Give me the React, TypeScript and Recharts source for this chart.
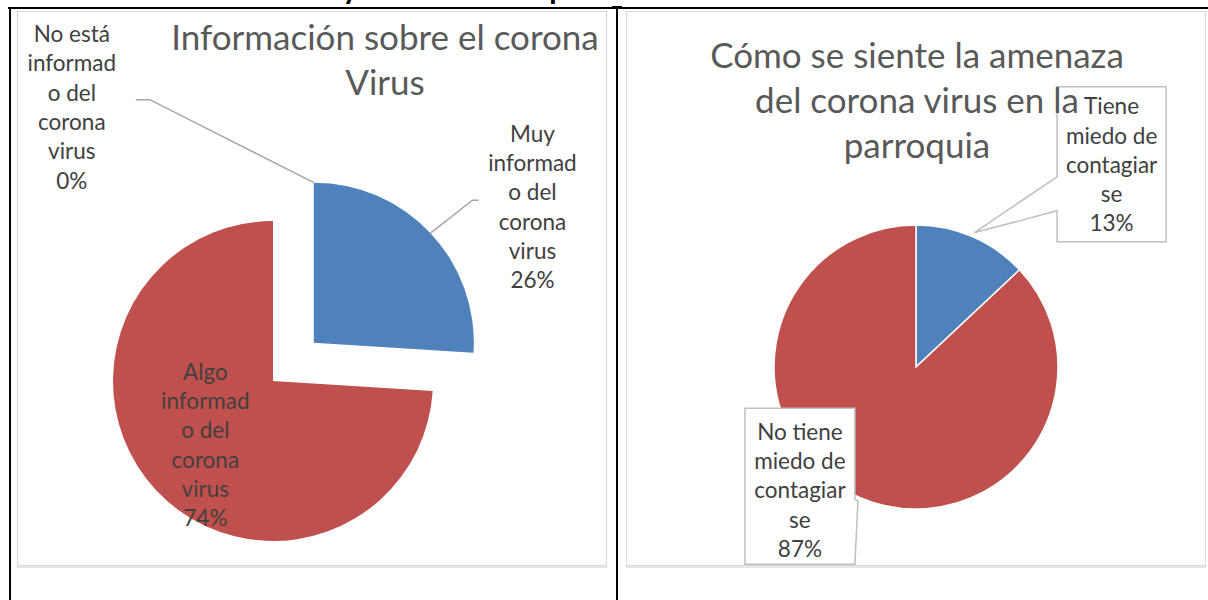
import { PieChart, Pie, Cell, Sector } from 'recharts';

const infoTitle = ['Información sobre el corona', 'Virus'];
const infoCategories = [
  'Muy informado del corona virus',
  'Algo informado del corona virus',
  'No está informado del corona virus',
];
const infoValues = [26, 74, 0];

const threatTitle = ['Cómo se siente la amenaza', 'del corona virus en la', 'parroquia'];
const threatCategories = ['Tiene miedo de contagiarse', 'No tiene miedo de contagiarse'];
const threatValues = [13, 87];

const COLORS = ['#4f81bd', '#c0504d', '#9bbb59'];
const RAD = Math.PI / 180;
const FONT = 'Lato, "Open Sans", sans-serif';
const LABEL_SIZE = 22.5;
const LH = 29.3;
const EXPLODE = 56;
const NO_MARGIN = { top: 0, right: 0, bottom: 0, left: 0 };

const infoData = infoCategories.map((name, i) => ({ name, value: infoValues[i] }));
const threatData = threatCategories.map((name, i) => ({ name, value: threatValues[i] }));

// excel-ish word wrap, breaks long words at max chars
function wrap(text: string, max: number) {
  const lines: string[] = [];
  let cur = '';
  for (const w of text.split(' ')) {
    let word = w;
    for (;;) {
      const cand = cur ? cur + ' ' + word : word;
      if (cand.length <= max) {
        cur = cand;
        break;
      }
      if (cur) {
        lines.push(cur);
        cur = '';
        continue;
      }
      lines.push(word.slice(0, max));
      word = word.slice(max);
    }
  }
  if (cur) lines.push(cur);
  return lines;
}

const polar = (cx: number, cy: number, r: number, angle: number) => ({
  x: cx + r * Math.cos(-angle * RAD),
  y: cy + r * Math.sin(-angle * RAD),
});

const TextBlock = ({ x, y, lines }: { x: number; y: number; lines: string[] }) => (
  <g>
    {lines.map((l, i) => (
      <text
        key={i}
        x={x}
        y={y + i * LH}
        textAnchor="middle"
        dominantBaseline="central"
        fill="#404040"
        fontSize={LABEL_SIZE}
        fontFamily={FONT}
      >
        {l}
      </text>
    ))}
  </g>
);

const InfoSector = (props: any) => {
  const name = props.name ?? props.payload?.name;
  let { cx, cy } = props;
  if (name === infoCategories[0]) {
    const o = polar(cx, cy, EXPLODE, props.midAngle);
    cx = o.x;
    cy = o.y;
  }
  return (
    <Sector
      cx={cx}
      cy={cy}
      innerRadius={props.innerRadius}
      outerRadius={props.outerRadius}
      startAngle={props.startAngle}
      endAngle={props.endAngle}
      fill={props.fill}
      stroke="none"
    />
  );
};

const renderInfoLabel = (p: any) => {
  const { cx, cy, midAngle, outerRadius, index, percent } = p;
  const lines = [...wrap(infoCategories[index], 8), `${Math.round(percent * 100)}%`];
  const total = infoValues.reduce((a, b) => a + b, 0);
  const blueMid = 90 - ((infoValues[0] / total) * 360) / 2;
  const ex = polar(cx, cy, EXPLODE, blueMid);
  if (index === 0) {
    const a = polar(ex.x, ex.y, outerRadius, midAngle);
    const ox = a.x + 42;
    const oy = a.y - 33;
    return (
      <g>
        <polyline points={`${a.x},${a.y} ${ox},${oy} ${ox + 6},${oy}`} fill="none" stroke="#a6a6a6" strokeWidth={1.5} />
        <TextBlock x={ox + 60} y={oy - 67} lines={lines} />
      </g>
    );
  }
  if (index === 2) {
    const a = { x: ex.x, y: ex.y - outerRadius };
    const ox = a.x - 164;
    const oy = a.y - 83;
    return (
      <g>
        <polyline points={`${a.x},${a.y} ${ox},${oy} ${ox - 14},${oy}`} fill="none" stroke="#a6a6a6" strokeWidth={1.5} />
        <TextBlock x={ox - 78} y={oy - 66} lines={lines} />
      </g>
    );
  }
  const c = polar(cx, cy, outerRadius * 0.58, midAngle);
  return <TextBlock x={c.x} y={c.y - 2.5 * LH} lines={lines} />;
};

const renderThreatLabel = (p: any) => {
  const { cx, cy, midAngle, outerRadius, index, percent } = p;
  const lines = [...wrap(threatCategories[index], 9), `${Math.round(percent * 100)}%`];
  const a = polar(cx, cy, outerRadius * 1.03, midAngle);
  if (index === 0) {
    const left = a.x + 83;
    const top = a.y - 146;
    const right = left + 109;
    const bottom = top + 155;
    const d = `M${left},${top} H${right} V${bottom} H${left} V${a.y - 22} L${a.x},${a.y} L${left},${a.y - 56} Z`;
    return (
      <g>
        <path d={d} fill="#fff" stroke="#bfbfbf" strokeWidth={1.5} />
        <TextBlock x={left + 54.5} y={top + 19} lines={lines} />
      </g>
    );
  }
  const right = a.x - 3;
  const left = right - 110;
  const top = a.y - 93;
  const bottom = top + 156;
  const d = `M${left},${top} H${right} V${a.y - 2} L${a.x},${a.y} L${right},${bottom} H${left} Z`;
  return (
    <g>
      <path d={d} fill="#fff" stroke="#bfbfbf" strokeWidth={1.5} />
      <TextBlock x={left + 55} y={top + 23} lines={lines} />
    </g>
  );
};

const titleStyle = (left: number, top: number): React.CSSProperties => ({
  position: 'absolute',
  left,
  top,
  width: 500,
  textAlign: 'center',
  fontFamily: FONT,
  fontSize: 35,
  lineHeight: '45px',
  color: '#595959',
  whiteSpace: 'nowrap',
  pointerEvents: 'none',
});

const boxStyle = (left: number, width: number): React.CSSProperties => ({
  position: 'absolute',
  left,
  top: 11,
  width,
  height: 553,
  border: '1px solid #d9d9d9',
  boxShadow: '0 2px 0 #e6e6e6',
  background: '#fff',
});

export default function App() {
  return (
    <div style={{ position: 'absolute', left: 0, top: 0, width: 1208, height: 600, background: '#fff', overflow: 'hidden' }}>
      {/* heading of the page, mostly cut off above the view */}
      <svg width={1208} height={12} style={{ position: 'absolute', left: 0, top: 0 }}>
        <text x={185} y={-1} fontSize={30} fontWeight="bold" fontFamily="Calibri, Lato, sans-serif" fill="#000">
          Información y amenaza en la población
        </text>
      </svg>

      {/* table lines */}
      <div style={{ position: 'absolute', left: 8, top: 7, width: 1200, height: 2, background: '#000' }} />
      <div style={{ position: 'absolute', left: 9, top: 7, width: 2, height: 593, background: '#000' }} />
      <div style={{ position: 'absolute', left: 616, top: 7, width: 2, height: 593, background: '#000' }} />
      <div style={{ position: 'absolute', left: 612, top: 6, width: 10, height: 3, background: '#000' }} />

      {/* left chart */}
      <div style={boxStyle(17, 588)} />
      <div style={{ position: 'absolute', left: 18, top: 12 }}>
        <PieChart width={588} height={554} margin={NO_MARGIN}>
          <Pie
            data={infoData}
            dataKey="value"
            nameKey="name"
            cx={255}
            cy={369}
            outerRadius={160}
            startAngle={90}
            endAngle={-270}
            shape={InfoSector}
            label={renderInfoLabel}
            labelLine={false}
            isAnimationActive={false}
          >
            {infoData.map((d, i) => (
              <Cell key={d.name} fill={COLORS[i]} />
            ))}
          </Pie>
        </PieChart>
      </div>
      <div style={titleStyle(135, 14)}>
        {infoTitle.map((t) => (
          <div key={t}>{t}</div>
        ))}
      </div>

      {/* right chart */}
      <div style={boxStyle(626, 578)} />
      <div style={{ position: 'absolute', left: 627, top: 12 }}>
        <PieChart width={578} height={554} margin={NO_MARGIN}>
          <Pie
            data={threatData}
            dataKey="value"
            nameKey="name"
            cx={289}
            cy={355}
            outerRadius={142}
            startAngle={90}
            endAngle={-270}
            stroke="#fff"
            strokeWidth={1.5}
            label={renderThreatLabel}
            labelLine={false}
            isAnimationActive={false}
          >
            {threatData.map((d, i) => (
              <Cell key={d.name} fill={COLORS[i]} />
            ))}
          </Pie>
        </PieChart>
      </div>
      <div style={titleStyle(667, 32)}>
        {threatTitle.map((t) => (
          <div key={t}>{t}</div>
        ))}
      </div>
    </div>
  );
}
